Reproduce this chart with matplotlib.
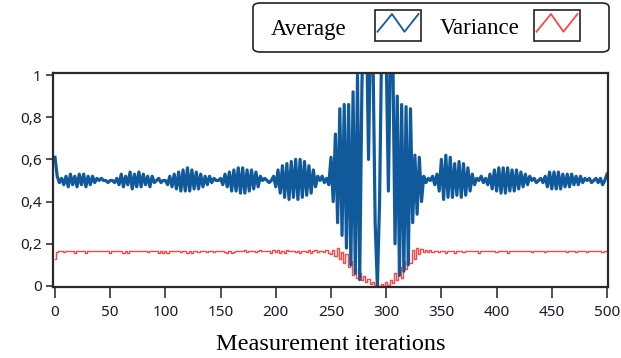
import numpy as np
import matplotlib.pyplot as plt
from matplotlib.patches import FancyBboxPatch, Rectangle
from matplotlib.lines import Line2D

# iterations sampled every 2 steps (0..500)
iterations = np.arange(0, 501, 2)

average = [
    0.61, 0.52, 0.49, 0.51, 0.48, 0.52, 0.47, 0.53, 0.48, 0.52,
    0.47, 0.53, 0.48, 0.53, 0.47, 0.52, 0.48, 0.52, 0.49, 0.51,
    0.50, 0.51, 0.50, 0.50, 0.49, 0.50, 0.50, 0.49, 0.51, 0.48,
    0.53, 0.47, 0.52, 0.48, 0.54, 0.46, 0.53, 0.47, 0.54, 0.47,
    0.53, 0.48, 0.52, 0.47, 0.52, 0.49, 0.50, 0.51, 0.49, 0.50,
    0.50, 0.48, 0.52, 0.47, 0.53, 0.46, 0.54, 0.45, 0.55, 0.45,
    0.56, 0.45, 0.55, 0.46, 0.54, 0.46, 0.53, 0.47, 0.52, 0.48,
    0.52, 0.49, 0.51, 0.50, 0.50, 0.51, 0.48, 0.53, 0.47, 0.54,
    0.45, 0.55, 0.45, 0.56, 0.44, 0.56, 0.44, 0.55, 0.45, 0.55,
    0.46, 0.54, 0.47, 0.52, 0.50, 0.51, 0.50, 0.49, 0.50, 0.52,
    0.47, 0.55, 0.44, 0.57, 0.42, 0.58, 0.41, 0.59, 0.42, 0.60,
    0.41, 0.60, 0.42, 0.59, 0.43, 0.57, 0.44, 0.55, 0.47, 0.52,
    0.50, 0.52, 0.49, 0.51, 0.48, 0.61, 0.40, 0.72, 0.30, 0.84,
    0.24, 0.86, 0.18, 0.86, 0.10, 0.92, 0.06, 1.00, 0.03, 0.95,
    1.40, 1.30, 0.60, 1.30, 1.10, 0.30, 0.00, 0.40, 1.20, 1.40,
    1.10, 0.45, 1.20, 1.10, 0.20, 0.90, 0.05, 0.86, 0.07, 0.85,
    0.10, 0.84, 0.30, 0.62, 0.34, 0.61, 0.40, 0.52, 0.49, 0.51,
    0.50, 0.52, 0.48, 0.53, 0.45, 0.60, 0.41, 0.62, 0.42, 0.61,
    0.42, 0.58, 0.43, 0.59, 0.42, 0.58, 0.43, 0.56, 0.45, 0.53,
    0.48, 0.51, 0.50, 0.52, 0.49, 0.51, 0.48, 0.53, 0.46, 0.55,
    0.45, 0.56, 0.44, 0.56, 0.44, 0.56, 0.45, 0.55, 0.45, 0.55,
    0.46, 0.54, 0.47, 0.53, 0.48, 0.52, 0.50, 0.51, 0.49, 0.50,
    0.51, 0.49, 0.52, 0.47, 0.54, 0.46, 0.54, 0.46, 0.54, 0.46,
    0.53, 0.47, 0.53, 0.47, 0.53, 0.48, 0.52, 0.48, 0.52, 0.49,
    0.51, 0.50, 0.51, 0.49, 0.50, 0.51, 0.49, 0.51, 0.48, 0.50,
    0.53,
]

variance = [
    0.130, 0.160, 0.165, 0.165, 0.160, 0.165, 0.165, 0.165, 0.165, 0.158,
    0.165, 0.165, 0.165, 0.165, 0.158, 0.165, 0.165, 0.165, 0.165, 0.165,
    0.165, 0.165, 0.165, 0.165, 0.165, 0.158, 0.165, 0.165, 0.165, 0.165,
    0.165, 0.158, 0.165, 0.158, 0.165, 0.165, 0.165, 0.165, 0.165, 0.165,
    0.165, 0.165, 0.160, 0.165, 0.165, 0.165, 0.165, 0.158, 0.165, 0.158,
    0.165, 0.158, 0.165, 0.165, 0.165, 0.165, 0.168, 0.160, 0.165, 0.165,
    0.158, 0.165, 0.158, 0.165, 0.165, 0.160, 0.165, 0.168, 0.165, 0.160,
    0.165, 0.165, 0.160, 0.165, 0.165, 0.165, 0.165, 0.160, 0.155, 0.165,
    0.155, 0.160, 0.165, 0.165, 0.165, 0.165, 0.170, 0.160, 0.165, 0.165,
    0.165, 0.160, 0.165, 0.170, 0.168, 0.165, 0.165, 0.165, 0.158, 0.170,
    0.160, 0.172, 0.158, 0.165, 0.155, 0.170, 0.165, 0.165, 0.165, 0.160,
    0.165, 0.155, 0.165, 0.168, 0.160, 0.170, 0.155, 0.165, 0.170, 0.160,
    0.165, 0.168, 0.160, 0.170, 0.155, 0.150, 0.172, 0.140, 0.178, 0.130,
    0.160, 0.110, 0.150, 0.090, 0.120, 0.050, 0.085, 0.040, 0.060, 0.030,
    0.045, 0.020, 0.035, 0.010, 0.020, 0.000, 0.015, 0.000, 0.010, 0.002,
    0.020, 0.005, 0.030, 0.015, 0.060, 0.030, 0.090, 0.040, 0.120, 0.080,
    0.150, 0.110, 0.170, 0.130, 0.180, 0.150, 0.175, 0.160, 0.170, 0.160,
    0.172, 0.160, 0.168, 0.165, 0.160, 0.165, 0.165, 0.158, 0.165, 0.165,
    0.165, 0.158, 0.165, 0.165, 0.165, 0.160, 0.165, 0.165, 0.165, 0.165,
    0.165, 0.165, 0.158, 0.165, 0.165, 0.165, 0.165, 0.165, 0.165, 0.165,
    0.160, 0.165, 0.168, 0.165, 0.165, 0.158, 0.165, 0.165, 0.165, 0.165,
    0.165, 0.165, 0.165, 0.165, 0.165, 0.165, 0.160, 0.165, 0.165, 0.165,
    0.165, 0.165, 0.160, 0.165, 0.165, 0.165, 0.165, 0.165, 0.165, 0.165,
    0.165, 0.165, 0.160, 0.165, 0.165, 0.165, 0.160, 0.165, 0.165, 0.165,
    0.165, 0.160, 0.165, 0.165, 0.165, 0.165, 0.165, 0.165, 0.160, 0.165,
    0.165,
]

x_ticks = [0, 50, 100, 150, 200, 250, 300, 350, 400, 450, 500]
y_ticks = [0, 0.2, 0.4, 0.6, 0.8, 1]
y_tick_labels = ['0', '0,2', '0,4', '0,6', '0,8', '1']

W, H = 621, 358
blue = '#105a9c'
red = '#ff4646'

fig = plt.figure(figsize=(W / 100, H / 100), dpi=100)
ax = fig.add_axes([53 / W, 1 - 287 / H, 555 / W, 214 / H])

ax.plot(iterations, variance, color=red, lw=1.0, drawstyle='steps-mid')
ax.plot(iterations, average, color=blue, lw=2.3)

ax.set_xlim(-1.8, 500.9)
ax.set_ylim(-0.005, 1.0095)
ax.set_xticks(x_ticks)
ax.set_yticks(y_ticks)
ax.set_yticklabels(y_tick_labels)
for s in ax.spines.values():
    s.set_color('#2a2a2a')
    s.set_linewidth(1.6)
ax.tick_params(length=5, width=1.2, color='#333333', labelsize=11, pad=3,
               labelcolor='#1a1a2a')
ax.tick_params(axis='x', length=8, pad=5)
for lab in ax.get_xticklabels() + ax.get_yticklabels():
    lab.set_family('Noto Sans')

ax.set_xlabel('Measurement iterations', family='Liberation Serif', fontsize=17.5,
              labelpad=10)


def px(x, y):
    return (x / W, 1 - y / H)


# legend drawn as in the LabVIEW panel
box = FancyBboxPatch(px(253, 52), 356 / W, 49 / H, boxstyle='round,pad=0,rounding_size=0.012',
                     transform=fig.transFigure, fc='white', ec='#222222', lw=1.2)
fig.patches.append(box)
fig.text(*px(271, 29), 'Average', family='Liberation Serif', fontsize=16.5, va='center')
fig.text(*px(440, 29), 'Variance', family='Liberation Serif', fontsize=16.5, va='center')
for x0, col in [(375, blue), (534, red)]:
    fig.patches.append(Rectangle(px(x0, 41), 46 / W, 31 / H, transform=fig.transFigure,
                                 fc='white', ec='#222222', lw=1.2))
    xs = [x0 + 2.5, x0 + 17, x0 + 29.5, x0 + 43.5]
    ys = [31.7, 14, 31.7, 14]
    fig.lines.append(Line2D([v / W for v in xs], [1 - v / H for v in ys],
                            transform=fig.transFigure, color=col, lw=1.3))

fig.savefig('out.png', dpi=100)
